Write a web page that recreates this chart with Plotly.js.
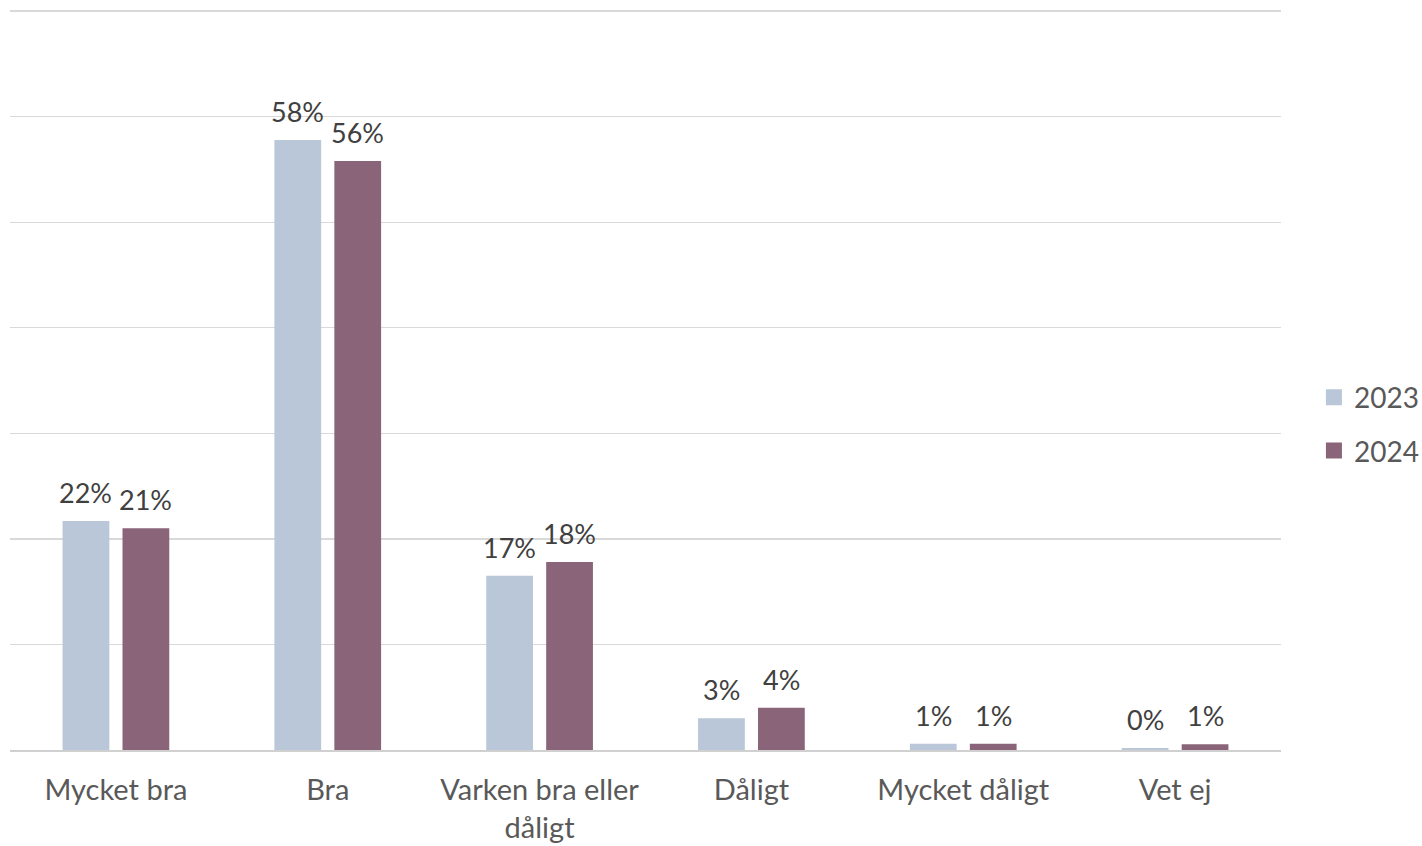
<!DOCTYPE html>
<html>
<head>
<meta charset="utf-8">
<script src="https://cdn.plot.ly/plotly-3.0.1.min.js"></script>
<style>html,body{margin:0;padding:0;background:#fff;}#chart{width:1422px;height:846px;}</style>
</head>
<body>
<div id="chart"></div>
<script>
const categories = ["Mycket bra", "Bra", "Varken bra eller<br>dåligt", "Dåligt", "Mycket dåligt", "Vet ej"];
const values2023 = [21.7, 57.8, 16.5, 3.0, 0.6, 0.2];
const values2024 = [21.0, 55.8, 17.8, 4.0, 0.6, 0.55];
const seriesNames = ["2023", "2024"];
const colors = ["#B9C7D9", "#8A6479"];

const font = "Lato, 'Open Sans', sans-serif";
const W = 1422, H = 846;
const margin = {l: 10, r: 141, t: 9, b: 96};
const bargap = 0.434;

function bar(name, y, color) {
  return {
    type: "bar", name: name, x: categories, y: y,
    marker: {color: color},
    showlegend: false,
    hoverinfo: "skip"
  };
}

function legendItem(name, color, group) {
  return {
    type: "scatter", mode: "markers", name: name, x: [null], y: [null],
    marker: {symbol: "square", size: 18, color: color},
    legendgroup: group, showlegend: true, hoverinfo: "skip"
  };
}

const data = [
  bar(seriesNames[0], values2023, colors[0]),
  bar(seriesNames[1], values2024, colors[1]),
  legendItem(seriesNames[0], colors[0], "a"),
  legendItem(seriesNames[1], colors[1], "b")
];

// data labels centred above each bar
const plotW = W - margin.l - margin.r;
const slot = plotW / categories.length * (1 - bargap) / 2;
const annotations = [];
[values2023, values2024].forEach((vals, s) => {
  vals.forEach((v, i) => {
    annotations.push({
      x: categories[i], y: v, xref: "x", yref: "y",
      text: Math.round(v) + "%", showarrow: false,
      xshift: (s - 0.5) * slot, yshift: 10, yanchor: "bottom",
      font: {family: font, size: 27, color: "#404040"}
    });
  });
});

const layout = {
  width: W, height: H,
  margin: margin,
  paper_bgcolor: "#fff", plot_bgcolor: "#fff",
  barmode: "group",
  bargap: bargap,
  bargroupgap: 0.22,
  font: {family: font, size: 28, color: "#595959"},
  xaxis: {
    showgrid: false, showline: true, linecolor: "#D0D0D0", linewidth: 1.5,
    ticks: "", tickfont: {family: font, size: 29, color: "#595959"},
    ticklabelstandoff: 14,
    fixedrange: true
  },
  yaxis: {
    range: [0, 70.2], dtick: 10, showticklabels: false,
    gridcolor: "#D9D9D9", gridwidth: 1.3, zeroline: false, ticks: "",
    fixedrange: true
  },
  annotations: annotations,
  showlegend: true,
  legend: {
    xref: "container", yref: "container",
    x: 0.924, xanchor: "left", y: (H - 424) / H, yanchor: "middle",
    font: {family: font, size: 28, color: "#595959"},
    tracegroupgap: 14, itemwidth: 30, traceorder: "grouped"
  }
};

Plotly.newPlot("chart", data, layout, {displayModeBar: false, staticPlot: true});
</script>
</body>
</html>
